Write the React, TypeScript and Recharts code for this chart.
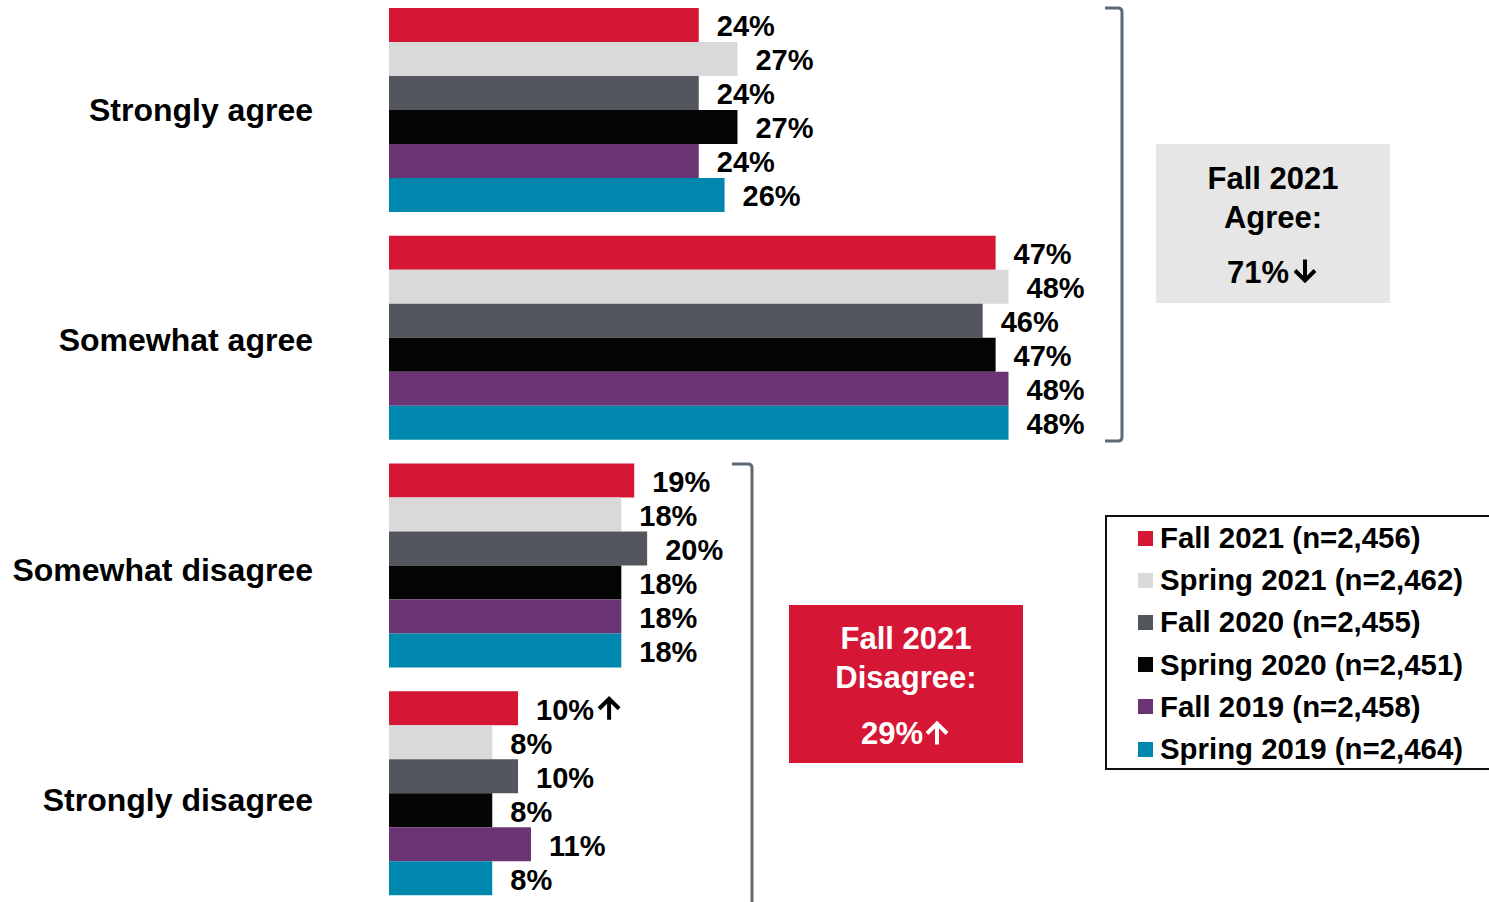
import { BarChart, Bar, XAxis, YAxis, LabelList, Legend } from "recharts";

const FONT = "'Liberation Sans', Arial, sans-serif";

const categories = ["Strongly agree", "Somewhat agree", "Somewhat disagree", "Strongly disagree"];

const fall2021 = [24, 47, 19, 10];
const spring2021 = [27, 48, 18, 8];
const fall2020 = [24, 46, 20, 10];
const spring2020 = [27, 47, 18, 8];
const fall2019 = [24, 48, 18, 11];
const spring2019 = [26, 48, 18, 8];

// significance arrows shown after the Fall 2021 values
const fall2021Arrows = ["", "", "", "↑"];

const series = [
  { key: "fall2021", name: "Fall 2021 (n=2,456)", color: "#D51635", values: fall2021, arrows: fall2021Arrows },
  { key: "spring2021", name: "Spring 2021 (n=2,462)", color: "#D9D9D9", values: spring2021, arrows: [] as string[] },
  { key: "fall2020", name: "Fall 2020 (n=2,455)", color: "#53565C", values: fall2020, arrows: [] as string[] },
  { key: "spring2020", name: "Spring 2020 (n=2,451)", color: "#050505", values: spring2020, arrows: [] as string[] },
  { key: "fall2019", name: "Fall 2019 (n=2,458)", color: "#6B3474", values: fall2019, arrows: [] as string[] },
  { key: "spring2019", name: "Spring 2019 (n=2,464)", color: "#0087AD", values: spring2019, arrows: [] as string[] },
];

const data = categories.map((category, i) => {
  const row: Record<string, string | number> = { category };
  series.forEach((s) => {
    row[s.key] = s.values[i];
    row[s.key + "Label"] = `${s.values[i]}%${s.arrows[i] ?? ""}`;
  });
  return row;
});

// rough Arial-bold width, good enough to park the arrow after the number
const textWidth = (t: string, fs: number) =>
  t.split("").reduce((w, ch) => w + (ch === "%" ? 0.889 : 0.556), 0) * fs;

// heavy arrow like the one in the slide deck; (x, cy) = left edge / vertical centre
function Arrow({ x, cy, up, color }: { x: number; cy: number; up: boolean; color: string }) {
  const h = 23;
  const top = cy - h / 2;
  const d = up
    ? `M${x + 12} ${top + h} V${top + 3} M${x + 2} ${top + 12} L${x + 12} ${top + 2} L${x + 22} ${top + 12}`
    : `M${x + 12} ${top} V${top + h - 3} M${x + 2} ${top + h - 12} L${x + 12} ${top + h - 2} L${x + 22} ${top + h - 12}`;
  return <path d={d} fill="none" stroke={color} strokeWidth={4} />;
}

function ValueLabel(props: any) {
  const { x, y, width, height, value } = props;
  const raw = String(value);
  const arrow = raw.endsWith("↑") ? "up" : raw.endsWith("↓") ? "down" : "";
  const txt = arrow ? raw.slice(0, -1) : raw;
  const tx = x + width + 18;
  const cy = y + height / 2 + 1;
  return (
    <g>
      <text x={tx} y={cy} dy="0.355em" fill="#000" fontSize={29} fontWeight="bold" fontFamily={FONT}>
        {txt}
      </text>
      {arrow && <Arrow x={tx + textWidth(txt, 29) + 3} cy={cy - 1} up={arrow === "up"} color="#000" />}
    </g>
  );
}

function CategoryTick(props: any) {
  const { x, y, payload, index } = props;
  return (
    <text
      x={x}
      y={y + index * 2.3}
      dy="0.355em"
      textAnchor="end"
      fill="#000"
      fontSize={32}
      fontWeight="bold"
      fontFamily={FONT}
    >
      {payload.value}
    </text>
  );
}

function LegendBox() {
  return (
    <div
      style={{
        boxSizing: "border-box",
        width: "100%",
        height: "100%",
        border: "2px solid #111",
        paddingLeft: 31,
        fontFamily: FONT,
        fontWeight: "bold",
        fontSize: 29.4,
        color: "#000",
      }}
    >
      {series.map((s) => (
        <div key={s.key} style={{ height: 42.2, display: "flex", alignItems: "center" }}>
          <span style={{ width: 15, height: 15, background: s.color, marginRight: 7, display: "inline-block" }} />
          <span>{s.name}</span>
        </div>
      ))}
    </div>
  );
}

export default function App() {
  const boxText = { fontFamily: FONT, fontWeight: "bold" as const, fontSize: 31, textAnchor: "middle" as const };
  return (
    <div style={{ position: "absolute", left: 0, top: 0, width: 1489, height: 902, overflow: "hidden", background: "#fff" }}>
      <div style={{ position: "absolute", left: 0, top: -4 }}>
        <BarChart
          width={1489}
          height={911}
          layout="vertical"
          data={data}
          margin={{ top: 0, right: 325.6, bottom: 0, left: 0 }}
          barCategoryGap={12}
          barGap={0}
        >
          <XAxis type="number" domain={[0, 60]} hide />
          <YAxis
            type="category"
            dataKey="category"
            width={389}
            axisLine={false}
            tickLine={false}
            tickSize={0}
            tickMargin={76}
            interval={0}
            tick={<CategoryTick />}
          />
          {series.map((s) => (
            <Bar key={s.key} dataKey={s.key} name={s.name} fill={s.color} isAnimationActive={false}>
              <LabelList dataKey={s.key + "Label"} content={<ValueLabel />} />
            </Bar>
          ))}
          <Legend
            layout="vertical"
            align="center"
            verticalAlign="middle"
            content={() => <LegendBox />}
            wrapperStyle={{ left: 1105, top: 519, width: 386, height: 255 }}
          />
        </BarChart>
      </div>
      <svg width={1489} height={902} style={{ position: "absolute", left: 0, top: 0, pointerEvents: "none" }}>
        {/* agree bracket */}
        <path d="M1105 8 H1118 Q1122 8 1122 12 V437 Q1122 441 1118 441 H1105" fill="none" stroke="#5D6974" strokeWidth={3} />
        {/* disagree bracket */}
        <path d="M732 464 H748 Q752 464 752 468 V910" fill="none" stroke="#5D6974" strokeWidth={3} />

        <rect x={1156} y={144} width={234} height={159} fill="#E6E6E6" />
        <text x={1273} y={189} fill="#000" {...boxText}>Fall 2021</text>
        <text x={1273} y={228} fill="#000" {...boxText}>Agree:</text>
        <text x={1227} y={283} fill="#000" {...boxText} textAnchor="start">71%</text>
        <Arrow x={1293} cy={271} up={false} color="#000" />

        <rect x={789} y={605} width={234} height={158} fill="#D51635" />
        <text x={906} y={649} fill="#fff" {...boxText}>Fall 2021</text>
        <text x={906} y={688} fill="#fff" {...boxText}>Disagree:</text>
        <text x={861} y={744} fill="#fff" {...boxText} textAnchor="start">29%</text>
        <Arrow x={925} cy={733} up={true} color="#fff" />
      </svg>
    </div>
  );
}
